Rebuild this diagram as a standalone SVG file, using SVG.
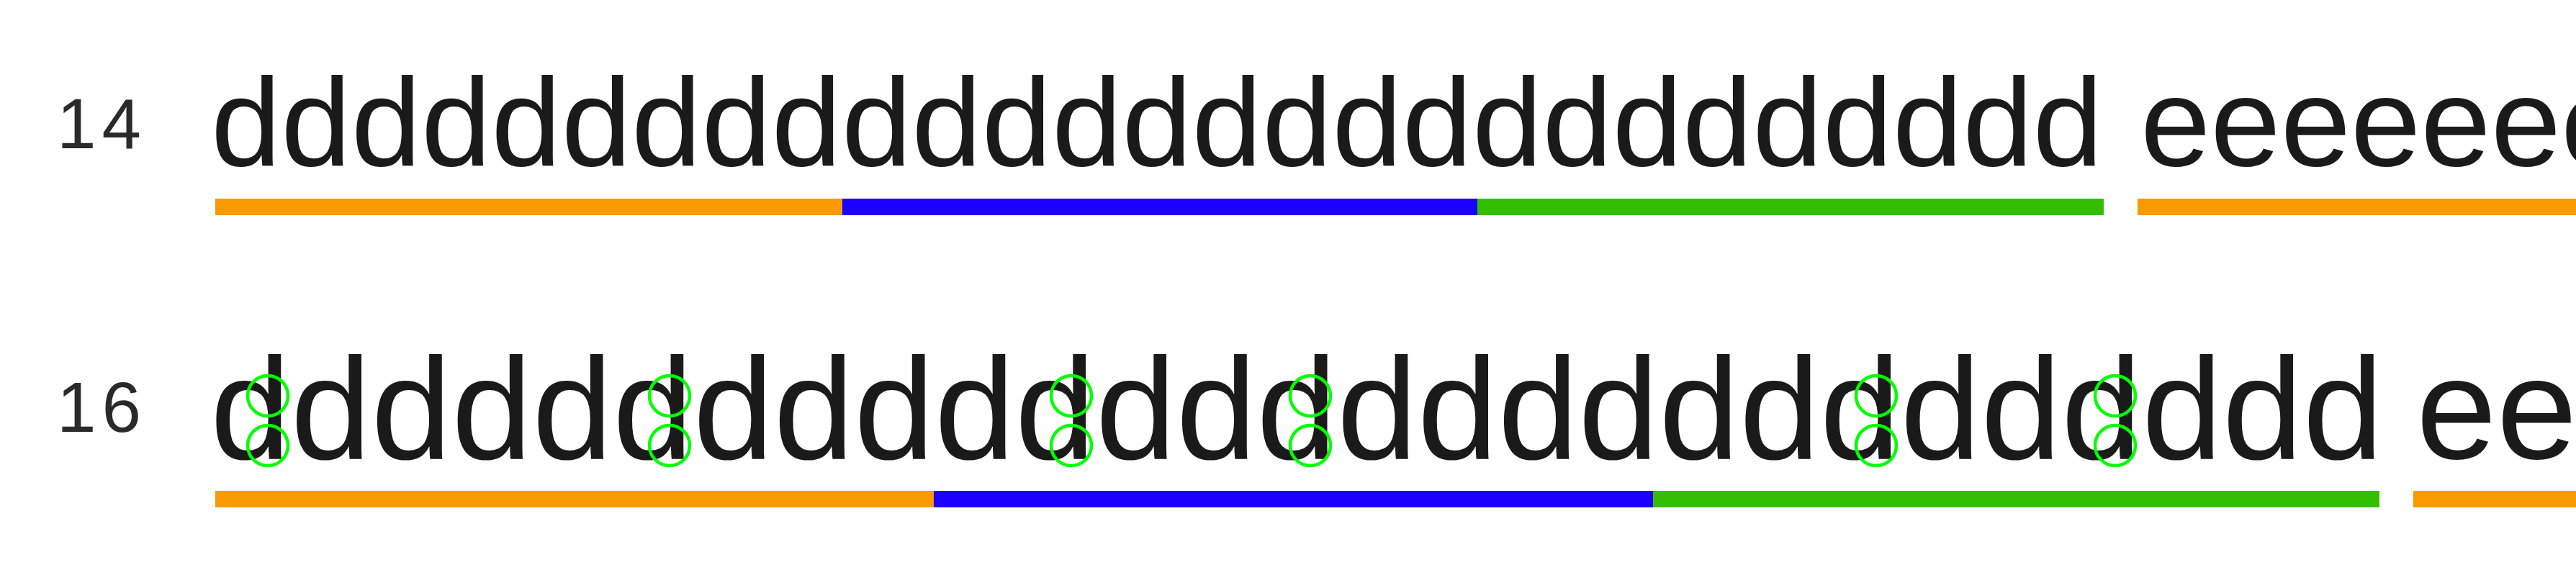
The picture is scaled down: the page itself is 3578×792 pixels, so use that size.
<svg xmlns="http://www.w3.org/2000/svg" width="3578" height="792" viewBox="0 0 3578 792">
<style>
.lbl{font-family:"Liberation Sans",Arial,sans-serif;font-size:98px;fill:#2a2a2a;letter-spacing:8px}
.t14{font-family:"Liberation Sans",Arial,sans-serif;font-size:175px;fill:#1a1a1a}
.t16{font-family:"Liberation Sans",Arial,sans-serif;font-size:201px;fill:#1a1a1a}
.o{fill:#F89A00}
.b{fill:#1C00FF}
.g{fill:#33BF00}
.c{fill:none;stroke:#00FF00;stroke-width:4.5}
</style>
<rect width="3578" height="792" fill="#ffffff"/>
<g id="row14">
<text class="lbl" x="79" y="206">14</text>
<text class="t14" x="293" y="230">ddddddddddddddddddddddddddd</text>
<text class="t14" x="2973" y="230">eeeeeee</text>
<rect class="o" x="299" y="276" width="871" height="23"/>
<rect class="b" x="1170" y="276" width="882" height="23"/>
<rect class="g" x="2052" y="276" width="870" height="23"/>
<rect class="o" x="2969" y="276" width="609" height="23"/>
</g>
<g id="row16">
<text class="lbl" x="79" y="600">16</text>
<text class="t16" x="292" y="637">ddddddddddddddddddddddddddd</text>
<text class="t16" x="3356" y="637">ee</text>
<rect class="o" x="299" y="682" width="998" height="23"/>
<rect class="b" x="1297" y="682" width="999" height="23"/>
<rect class="g" x="2296" y="682" width="1009" height="23"/>
<rect class="o" x="3352" y="682" width="226" height="23"/>
</g>
<g id="markers">
<circle class="c" cx="372" cy="550" r="28"/>
<circle class="c" cx="372" cy="619" r="28"/>
<circle class="c" cx="930" cy="550" r="28"/>
<circle class="c" cx="930" cy="619" r="28"/>
<circle class="c" cx="1488" cy="550" r="28"/>
<circle class="c" cx="1488" cy="619" r="28"/>
<circle class="c" cx="1820" cy="550" r="28"/>
<circle class="c" cx="1820" cy="619" r="28"/>
<circle class="c" cx="2606" cy="550" r="28"/>
<circle class="c" cx="2606" cy="619" r="28"/>
<circle class="c" cx="2938" cy="550" r="28"/>
<circle class="c" cx="2938" cy="619" r="28"/>
</g>
</svg>
